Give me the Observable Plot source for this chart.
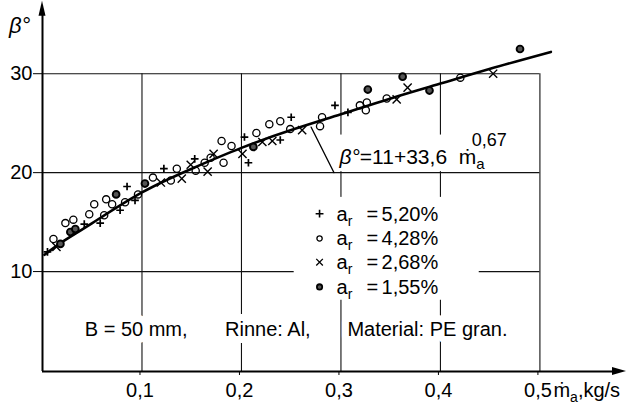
<!DOCTYPE html>
<html><head><meta charset="utf-8">
<script src="https://cdn.jsdelivr.net/npm/d3@7"></script>
<script src="https://cdn.jsdelivr.net/npm/@observablehq/plot@0.6"></script>
<style>body{margin:0;background:#fff} svg{display:block}</style>
</head><body><div id="chart"></div>
<script>
// ---- data ----
const xTicks = [0.1, 0.2, 0.3, 0.4, 0.5];
const xTickLabels = ["0,1", "0,2", "0,3", "0,4", "0,5"];
const yTicks = [10, 20, 30];

const seriesLabels = ["5,20%", "4,28%", "2,68%", "1,55%"];

// a_r = 5,20 %  (+)
const plusM = [0.005, 0.042, 0.058, 0.078, 0.085, 0.093, 0.122, 0.153, 0.203, 0.207, 0.239, 0.250, 0.294, 0.307];
const plusB = [12.0, 14.8, 14.9, 16.2, 18.6, 17.2, 20.4, 21.4, 23.6, 21.0, 23.3, 25.6, 26.8, 26.1];
// a_r = 4,28 %  (o)
const circM = [0.011, 0.023, 0.031, 0.047, 0.052, 0.062, 0.064, 0.070, 0.083, 0.096, 0.111, 0.129, 0.135, 0.154, 0.163, 0.169, 0.180, 0.182, 0.190, 0.215, 0.228, 0.239, 0.249, 0.279, 0.281, 0.319, 0.325, 0.326, 0.346, 0.420];
const circB = [13.3, 14.9, 15.25, 15.8, 16.8, 15.7, 17.3, 16.8, 17.0, 17.8, 19.5, 19.2, 20.4, 20.2, 21.0, 21.5, 23.2, 21.0, 22.7, 24.0, 24.9, 25.2, 24.4, 24.7, 25.6, 26.8, 26.3, 27.1, 27.5, 29.6];
// a_r = 2,68 %  (x)
const timesM = [0.014, 0.119, 0.140, 0.149, 0.166, 0.172, 0.201, 0.221, 0.231, 0.261, 0.356, 0.367, 0.453];
const timesB = [12.5, 19.0, 19.4, 20.8, 20.1, 21.9, 21.9, 23.1, 23.2, 24.3, 27.4, 28.6, 30.0];
// a_r = 1,55 %  (filled)
const fillM = [0.018, 0.028, 0.033, 0.074, 0.103, 0.212, 0.327, 0.362, 0.389, 0.480];
const fillB = [12.8, 14.0, 14.3, 17.8, 18.9, 22.6, 28.4, 29.7, 28.3, 32.5];

// fitted curve beta = 11 + 33,6 m^0,67
const fitM = [0.002, 0.02, 0.05, 0.1, 0.15, 0.2, 0.25, 0.3, 0.35, 0.4, 0.45, 0.511];
const fitB = [11.7, 13.0, 14.9, 18.0, 20.4, 22.5, 24.3, 25.9, 27.5, 29.0, 30.5, 32.2];

// leader line from the curve to the formula label
const leaderM = [0.270, 0.293];
const leaderB = [24.6, 20.0];

const FONT = "'Liberation Sans',Arial,sans-serif";

const toRows = (ms, bs) => ms.map((m, i) => ({m, b: bs[i]}));
const plusData = toRows(plusM, plusB);
const circData = toRows(circM, circB);
const timesData = toRows(timesM, timesB);
const fillData = toRows(fillM, fillB);
const fitData = toRows(fitM, fitB);
const leaderData = toRows(leaderM, leaderB);

const plot = Plot.plot({
  width: 626, height: 404,
  marginLeft: 42, marginRight: 7, marginTop: 0, marginBottom: 33,
  style: {fontFamily: FONT, background: "white", color: "black", overflow: "visible"},
  x: {domain: [0, 0.58]},
  y: {domain: [-0.1, 37.4]},
  marks: [
    Plot.ruleX(xTicks, {y1: -0.1, y2: 30, stroke: "#111", strokeWidth: 1.1}),
    Plot.ruleY(yTicks, {x1: 0, x2: 0.5, stroke: "#111", strokeWidth: 1.1}),
    Plot.axisX(xTicks, {tickFormat: d => xTickLabels[xTicks.indexOf(d)], tickSize: 4, tickPadding: 7, fontSize: 20, dx: -2, label: null}),
    Plot.axisY(yTicks, {tickSize: 9, tickPadding: 1, fontSize: 20, label: null}),
    Plot.ruleX([0], {y1: -0.1, y2: 36.0, stroke: "black", strokeWidth: 2}),
    Plot.ruleY([-0.1], {x1: 0, x2: 0.575, stroke: "black", strokeWidth: 2}),
    Plot.line(leaderData, {x: "m", y: "b", stroke: "black", strokeWidth: 1.2}),
    Plot.line(fitData, {x: "m", y: "b", curve: "natural", stroke: "black", strokeWidth: 2.6}),
    Plot.dot(circData, {x: "m", y: "b", symbol: "circle", r: 3.6, stroke: "black", strokeWidth: 1.3, fill: "none"}),
    Plot.dot(timesData, {x: "m", y: "b", symbol: "times", r: 3.8, stroke: "black", strokeWidth: 1.4}),
    Plot.dot(plusData, {x: "m", y: "b", symbol: "plus", r: 2.6, stroke: "black", strokeWidth: 1.7}),
    Plot.dot(fillData, {x: "m", y: "b", symbol: "circle", r: 3.4, stroke: "black", strokeWidth: 1.9, fill: "#555"})
  ]
});
document.getElementById("chart").appendChild(plot);

// ---- annotations ----
const svg = d3.select(plot);
const sx = plot.scale("x"), sy = plot.scale("y");
const X = v => sx.apply(v), Y = v => sy.apply(v);
const ann = svg.append("g").attr("font-family", FONT).attr("fill", "black").attr("text-anchor", "start");

// arrowheads
const x0 = X(0), yTop = Y(36.0), yb = Y(-0.1), xr = X(0.575);
ann.append("path").attr("d", `M${x0 - 3.5},${yTop + 2}L${x0},${yTop - 13}L${x0 + 3.5},${yTop + 2}Z`);
ann.append("path").attr("d", `M${xr - 2},${yb - 4}L${xr + 12},${yb}L${xr - 2},${yb + 4}Z`);

// y axis title
ann.append("text").attr("x", 9).attr("y", 33).attr("font-size", 22).attr("font-style", "italic").text("β°");

// x axis title
const xt = ann.append("text").attr("x", X(0.5) + 14).attr("y", 397).attr("font-size", 20);
xt.append("tspan").text("ṁ");
xt.append("tspan").attr("font-size", 14).attr("dy", 5).text("a");
xt.append("tspan").attr("dy", -5).text(",kg/s");

// formula box
ann.append("rect").attr("x", X(0.295)).attr("y", Y(23.8)).attr("width", X(0.497) - X(0.295)).attr("height", Y(20.1) - Y(23.8)).attr("fill", "white");
const ft = ann.append("text").attr("x", X(0.299)).attr("y", Y(20.8)).attr("font-size", 21);
ft.append("tspan").attr("font-style", "italic").text("β°");
ft.append("tspan").text("=11+33,6  ṁ");
ft.append("tspan").attr("font-size", 15).attr("dy", 5).text("a");
ann.append("text").attr("x", X(0.432)).attr("y", Y(22.6)).attr("font-size", 18).text("0,67");

// legend
ann.append("rect").attr("x", X(0.253)).attr("y", Y(17.5)).attr("width", X(0.439) - X(0.253)).attr("height", Y(7.1) - Y(17.5)).attr("fill", "white");
const legendRowsB = [15.8, 13.3, 10.9, 8.4];
const legX = X(0.279);
const symbols = [d3.symbolPlus, d3.symbolCircle, d3.symbolTimes, d3.symbolCircle];
seriesLabels.forEach((lab, i) => {
  const yy = Y(legendRowsB[i]);
  ann.append("path").attr("transform", `translate(${legX},${yy})`)
    .attr("d", d3.symbol(symbols[i], i === 0 ? 22 : i === 2 ? 30 : 22)())
    .attr("stroke", "black").attr("stroke-width", i === 0 ? 1.6 : i === 3 ? 1.8 : 1.3)
    .attr("fill", i === 3 ? "#555" : "none");
  const t = ann.append("text").attr("x", legX + 17).attr("y", yy + 7).attr("font-size", 20);
  t.append("tspan").text("a");
  t.append("tspan").attr("font-size", 14).attr("dy", 5).text("r");
  t.append("tspan").attr("x", legX + 47).attr("dy", -5).text("=");
  t.append("tspan").attr("x", legX + 62).text(lab);
});

// bottom note
const notes = [["B = 50 mm,", 0.043], ["Rinne: Al,", 0.184], ["Material: PE gran.", 0.307]];
notes.forEach(([txt, m]) => {
  ann.append("text").attr("x", X(m)).attr("y", 336).attr("font-size", 20)
    .attr("stroke", "white").attr("stroke-width", 14).attr("stroke-linejoin", "round")
    .attr("paint-order", "stroke").text(txt);
});
</script>
</body></html>
